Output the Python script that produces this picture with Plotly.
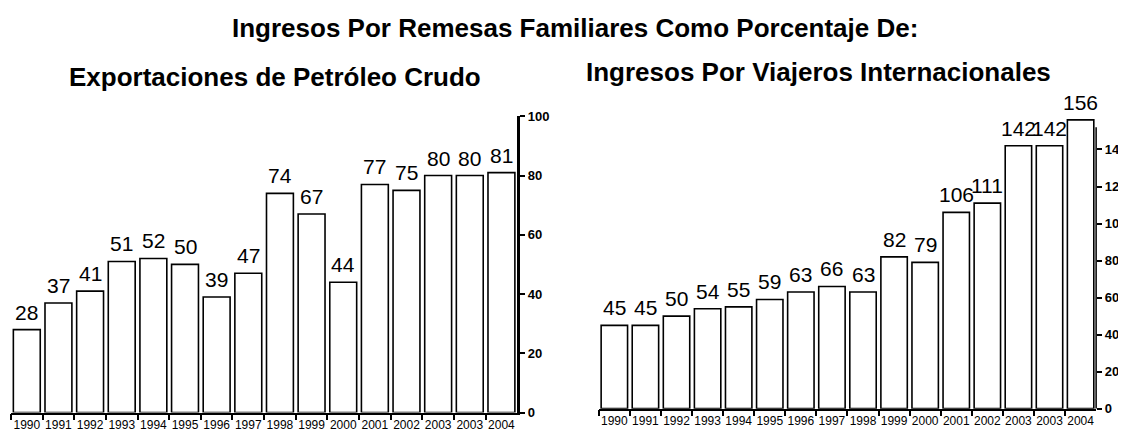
import plotly.graph_objects as go

# Data
years = ["1990", "1991", "1992", "1993", "1994", "1995", "1996", "1997",
         "1998", "1999", "2000", "2001", "2002", "2003", "2003", "2004"]
petroleo = [28, 37, 41, 51, 52, 50, 39, 47, 74, 67, 44, 77, 75, 80, 80, 81]
viajeros = [45, 45, 50, 54, 55, 59, 63, 66, 63, 82, 79, 106, 111, 142, 142, 156]

left_ticks = [0, 20, 40, 60, 80, 100]
right_ticks = [0, 20, 40, 60, 80, 100, 120, 140]

FONT = "Liberation Sans, Arial, sans-serif"
# page body has an 8px margin, so the figure is sized to fit inside it
OFF = 8
W, H = 1126 - OFF, 443 - 16


def px_x(sx):
    return (sx - OFF) / W


def px_y(sy):
    return 1 - (sy - OFF) / H


idx = list(range(len(years)))

fig = go.Figure()

bar_style = dict(marker=dict(color="white", line=dict(color="black", width=1.6)),
                 showlegend=False, hoverinfo="skip")
fig.add_trace(go.Bar(x=idx, y=petroleo, xaxis="x", yaxis="y", **bar_style))
fig.add_trace(go.Bar(x=idx, y=viajeros, xaxis="x2", yaxis="y2", **bar_style))

# value labels above the bars
annotations = []
for i, v in enumerate(petroleo):
    annotations.append(dict(x=i, y=v, xref="x", yref="y", text=str(v), showarrow=False,
                            yanchor="bottom", yshift=4, font=dict(size=21, color="black")))
for i, v in enumerate(viajeros):
    annotations.append(dict(x=i, y=v, xref="x2", yref="y2", text=str(v), showarrow=False,
                            yanchor="bottom", yshift=4, font=dict(size=21, color="black")))

# titles
tfont = dict(size=26, color="black", family="Liberation Sans, Arial, sans-serif")
annotations += [
    dict(text="<b>Ingresos Por Remesas Familiares Como Porcentaje De:</b>",
         x=px_x(578), y=px_y(21), xanchor="center", yanchor="middle",
         xref="paper", yref="paper", showarrow=False, font=tfont),
    dict(text="<b>Exportaciones de Petróleo Crudo</b>", x=px_x(276), y=px_y(72),
         xanchor="center", yanchor="middle",
         xref="paper", yref="paper", showarrow=False, font=tfont),
    dict(text="<b>Ingresos Por Viajeros Internacionales</b>", x=px_x(823), y=px_y(67),
         xanchor="center", yanchor="middle",
         xref="paper", yref="paper", showarrow=False, font=tfont),
]

xcommon = dict(type="category", tickmode="array", tickvals=idx, ticktext=years,
               tickson="boundaries", ticks="outside", ticklen=6, tickwidth=1.5,
               tickcolor="black", showline=True, linecolor="black", linewidth=1.5,
               showgrid=False, zeroline=False, tickfont=dict(size=12, color="black"),
               tickangle=0, range=[-0.5, 15.5])
ycommon = dict(side="right", ticks="outside", ticklen=5, tickcolor="black",
               showgrid=False, zeroline=False, tickmode="array",
               tickfont=dict(size=13, color="black", weight="bold"))

fig.update_layout(
    width=W, height=H,
    margin=dict(l=0, r=0, t=0, b=0),
    paper_bgcolor="white", plot_bgcolor="white",
    font=dict(family=FONT, color="black"),
    bargap=0.15,
    xaxis=dict(domain=[px_x(11), px_x(520)], anchor="y", **xcommon),
    yaxis=dict(domain=[px_y(420), px_y(113)], anchor="x", range=[0, 100], tickvals=left_ticks,
               showline=True, linecolor="black", linewidth=3, tickwidth=1.5, **ycommon),
    xaxis2=dict(domain=[px_x(602), px_x(1102)], anchor="y2", **xcommon),
    yaxis2=dict(domain=[px_y(416), px_y(109)], anchor="x2", range=[0, 160], tickvals=right_ticks,
                showline=False, tickwidth=1.5, **ycommon),
    annotations=annotations,
    shapes=[dict(type="line", xref="x2 domain", yref="y2", x0=1, x1=1, y0=0, y1=152,
                 line=dict(color="black", width=1.5))],
)

fig.write_html("out.html")
